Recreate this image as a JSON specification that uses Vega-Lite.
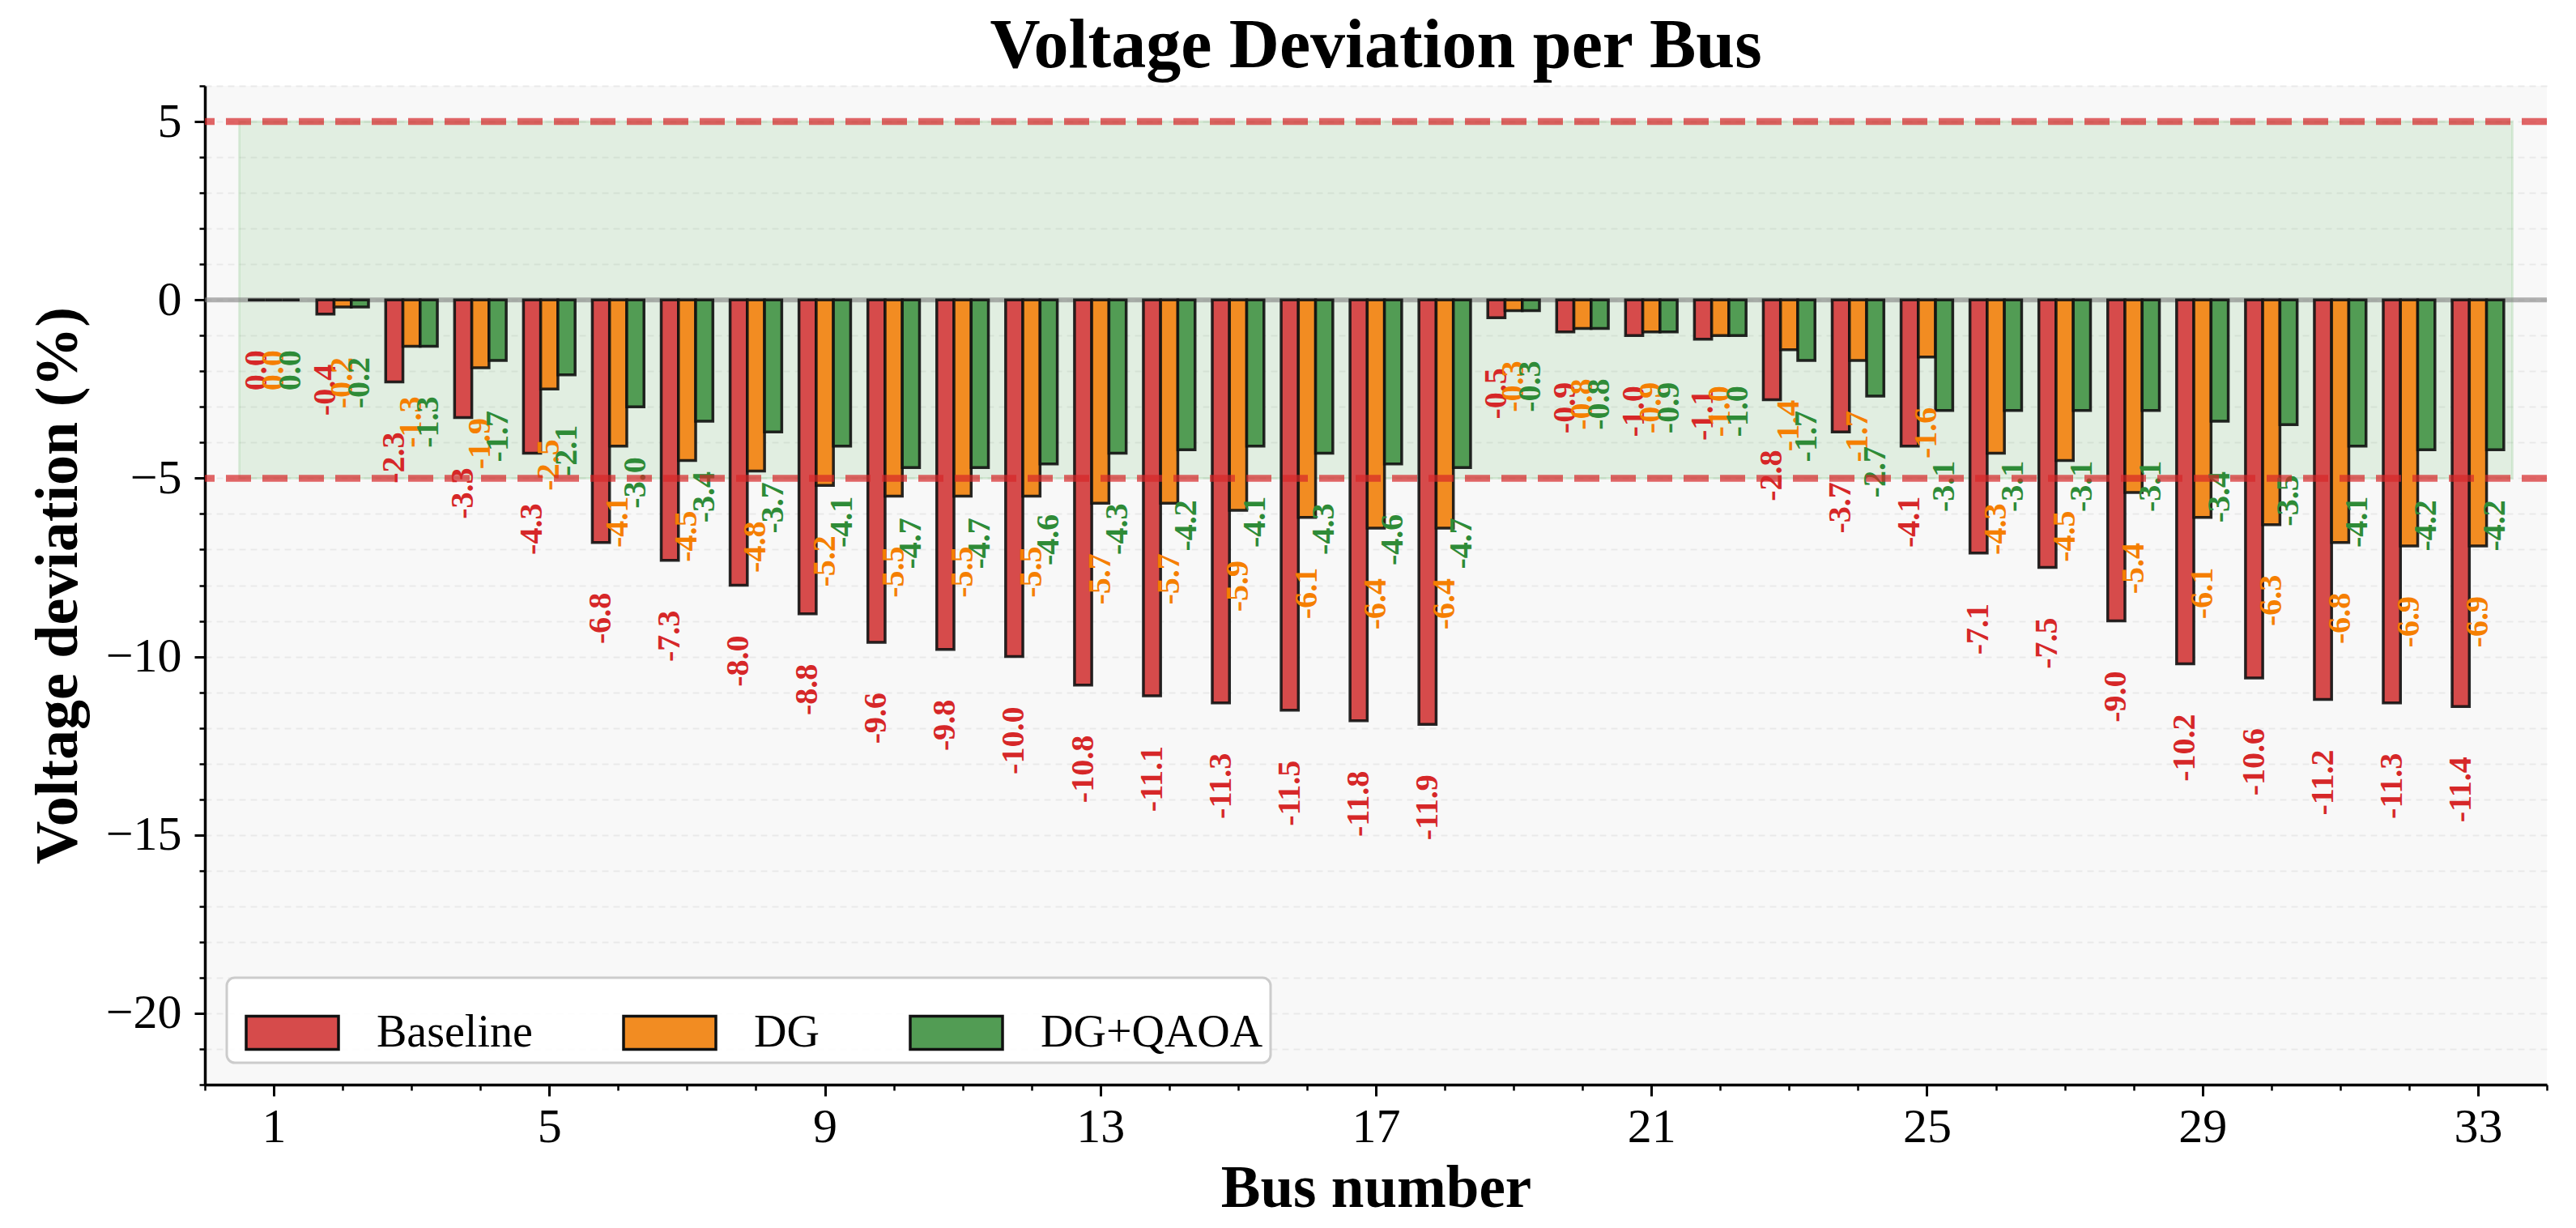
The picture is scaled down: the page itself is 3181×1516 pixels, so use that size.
{
  "$schema": "https://vega.github.io/schema/vega-lite/v6.json",
  "width": 2892,
  "height": 1233,
  "autosize": {"type": "none"},
  "padding": {"left": 253, "top": 106, "right": 36, "bottom": 177},
  "background": "white",
  "title": {
    "text": "Voltage Deviation per Bus",
    "font": "Liberation Serif",
    "fontSize": 86,
    "fontWeight": "bold",
    "color": "black",
    "anchor": "middle",
    "offset": 4
  },
  "datasets": {
    "buses": [
      {"bus": 1, "scenario": "Baseline", "dev": 0.0}, {"bus": 1, "scenario": "DG", "dev": 0.0}, {"bus": 1, "scenario": "DG+QAOA", "dev": 0.0},
      {"bus": 2, "scenario": "Baseline", "dev": -0.4}, {"bus": 2, "scenario": "DG", "dev": -0.2}, {"bus": 2, "scenario": "DG+QAOA", "dev": -0.2},
      {"bus": 3, "scenario": "Baseline", "dev": -2.3}, {"bus": 3, "scenario": "DG", "dev": -1.3}, {"bus": 3, "scenario": "DG+QAOA", "dev": -1.3},
      {"bus": 4, "scenario": "Baseline", "dev": -3.3}, {"bus": 4, "scenario": "DG", "dev": -1.9}, {"bus": 4, "scenario": "DG+QAOA", "dev": -1.7},
      {"bus": 5, "scenario": "Baseline", "dev": -4.3}, {"bus": 5, "scenario": "DG", "dev": -2.5}, {"bus": 5, "scenario": "DG+QAOA", "dev": -2.1},
      {"bus": 6, "scenario": "Baseline", "dev": -6.8}, {"bus": 6, "scenario": "DG", "dev": -4.1}, {"bus": 6, "scenario": "DG+QAOA", "dev": -3.0},
      {"bus": 7, "scenario": "Baseline", "dev": -7.3}, {"bus": 7, "scenario": "DG", "dev": -4.5}, {"bus": 7, "scenario": "DG+QAOA", "dev": -3.4},
      {"bus": 8, "scenario": "Baseline", "dev": -8.0}, {"bus": 8, "scenario": "DG", "dev": -4.8}, {"bus": 8, "scenario": "DG+QAOA", "dev": -3.7},
      {"bus": 9, "scenario": "Baseline", "dev": -8.8}, {"bus": 9, "scenario": "DG", "dev": -5.2}, {"bus": 9, "scenario": "DG+QAOA", "dev": -4.1},
      {"bus": 10, "scenario": "Baseline", "dev": -9.6}, {"bus": 10, "scenario": "DG", "dev": -5.5}, {"bus": 10, "scenario": "DG+QAOA", "dev": -4.7},
      {"bus": 11, "scenario": "Baseline", "dev": -9.8}, {"bus": 11, "scenario": "DG", "dev": -5.5}, {"bus": 11, "scenario": "DG+QAOA", "dev": -4.7},
      {"bus": 12, "scenario": "Baseline", "dev": -10.0}, {"bus": 12, "scenario": "DG", "dev": -5.5}, {"bus": 12, "scenario": "DG+QAOA", "dev": -4.6},
      {"bus": 13, "scenario": "Baseline", "dev": -10.8}, {"bus": 13, "scenario": "DG", "dev": -5.7}, {"bus": 13, "scenario": "DG+QAOA", "dev": -4.3},
      {"bus": 14, "scenario": "Baseline", "dev": -11.1}, {"bus": 14, "scenario": "DG", "dev": -5.7}, {"bus": 14, "scenario": "DG+QAOA", "dev": -4.2},
      {"bus": 15, "scenario": "Baseline", "dev": -11.3}, {"bus": 15, "scenario": "DG", "dev": -5.9}, {"bus": 15, "scenario": "DG+QAOA", "dev": -4.1},
      {"bus": 16, "scenario": "Baseline", "dev": -11.5}, {"bus": 16, "scenario": "DG", "dev": -6.1}, {"bus": 16, "scenario": "DG+QAOA", "dev": -4.3},
      {"bus": 17, "scenario": "Baseline", "dev": -11.8}, {"bus": 17, "scenario": "DG", "dev": -6.4}, {"bus": 17, "scenario": "DG+QAOA", "dev": -4.6},
      {"bus": 18, "scenario": "Baseline", "dev": -11.9}, {"bus": 18, "scenario": "DG", "dev": -6.4}, {"bus": 18, "scenario": "DG+QAOA", "dev": -4.7},
      {"bus": 19, "scenario": "Baseline", "dev": -0.5}, {"bus": 19, "scenario": "DG", "dev": -0.3}, {"bus": 19, "scenario": "DG+QAOA", "dev": -0.3},
      {"bus": 20, "scenario": "Baseline", "dev": -0.9}, {"bus": 20, "scenario": "DG", "dev": -0.8}, {"bus": 20, "scenario": "DG+QAOA", "dev": -0.8},
      {"bus": 21, "scenario": "Baseline", "dev": -1.0}, {"bus": 21, "scenario": "DG", "dev": -0.9}, {"bus": 21, "scenario": "DG+QAOA", "dev": -0.9},
      {"bus": 22, "scenario": "Baseline", "dev": -1.1}, {"bus": 22, "scenario": "DG", "dev": -1.0}, {"bus": 22, "scenario": "DG+QAOA", "dev": -1.0},
      {"bus": 23, "scenario": "Baseline", "dev": -2.8}, {"bus": 23, "scenario": "DG", "dev": -1.4}, {"bus": 23, "scenario": "DG+QAOA", "dev": -1.7},
      {"bus": 24, "scenario": "Baseline", "dev": -3.7}, {"bus": 24, "scenario": "DG", "dev": -1.7}, {"bus": 24, "scenario": "DG+QAOA", "dev": -2.7},
      {"bus": 25, "scenario": "Baseline", "dev": -4.1}, {"bus": 25, "scenario": "DG", "dev": -1.6}, {"bus": 25, "scenario": "DG+QAOA", "dev": -3.1},
      {"bus": 26, "scenario": "Baseline", "dev": -7.1}, {"bus": 26, "scenario": "DG", "dev": -4.3}, {"bus": 26, "scenario": "DG+QAOA", "dev": -3.1},
      {"bus": 27, "scenario": "Baseline", "dev": -7.5}, {"bus": 27, "scenario": "DG", "dev": -4.5}, {"bus": 27, "scenario": "DG+QAOA", "dev": -3.1},
      {"bus": 28, "scenario": "Baseline", "dev": -9.0}, {"bus": 28, "scenario": "DG", "dev": -5.4}, {"bus": 28, "scenario": "DG+QAOA", "dev": -3.1},
      {"bus": 29, "scenario": "Baseline", "dev": -10.2}, {"bus": 29, "scenario": "DG", "dev": -6.1}, {"bus": 29, "scenario": "DG+QAOA", "dev": -3.4},
      {"bus": 30, "scenario": "Baseline", "dev": -10.6}, {"bus": 30, "scenario": "DG", "dev": -6.3}, {"bus": 30, "scenario": "DG+QAOA", "dev": -3.5},
      {"bus": 31, "scenario": "Baseline", "dev": -11.2}, {"bus": 31, "scenario": "DG", "dev": -6.8}, {"bus": 31, "scenario": "DG+QAOA", "dev": -4.1},
      {"bus": 32, "scenario": "Baseline", "dev": -11.3}, {"bus": 32, "scenario": "DG", "dev": -6.9}, {"bus": 32, "scenario": "DG+QAOA", "dev": -4.2},
      {"bus": 33, "scenario": "Baseline", "dev": -11.4}, {"bus": 33, "scenario": "DG", "dev": -6.9}, {"bus": 33, "scenario": "DG+QAOA", "dev": -4.2}
    ],
    "limits": [{"limit": 5}, {"limit": -5}],
    "band": [{"lo": -5, "hi": 5}],
    "zero": [{"ref": 0}]
  },
  "layer": [
    {
      "data": {"name": "band"},
      "mark": {"type": "rect", "fill": "#2ca02c", "fillOpacity": 0.11, "stroke": "#2ca02c", "strokeOpacity": 0.12, "strokeWidth": 3},
      "encoding": {
        "x": {
          "datum": 0.5, "type": "quantitative",
          "scale": {"domain": [0, 34], "nice": false, "zero": false},
          "axis": {
            "orient": "bottom", "values": [1, 5, 9, 13, 17, 21, 25, 29, 33],
            "title": "Bus number", "grid": false,
            "domain": true, "domainColor": "black", "domainWidth": 3.5,
            "ticks": true, "tickSize": 14, "tickWidth": 3, "tickColor": "black",
            "labelFontSize": 60, "labelPadding": 9, "labelColor": "black",
            "titleFontSize": 73, "titlePadding": 10
          }
        },
        "x2": {"datum": 33.5},
        "y": {
          "field": "lo", "type": "quantitative",
          "scale": {"domain": [-22, 6], "nice": false, "zero": false},
          "axis": {
            "orient": "left", "values": [-20, -15, -10, -5, 0, 5],
            "title": "Voltage deviation (%)", "grid": false,
            "domain": true, "domainColor": "black", "domainWidth": 3.5,
            "ticks": true, "tickSize": 13, "tickWidth": 3, "tickColor": "black",
            "labelFontSize": 60, "labelPadding": 16, "labelColor": "black",
            "titleFontSize": 74, "titlePadding": 20
          }
        },
        "y2": {"field": "hi"}
      }
    },
    {
      "data": {"name": "zero"},
      "mark": {"type": "rule", "color": "gray", "opacity": 0.6, "strokeWidth": 6},
      "encoding": {
        "x": {
          "datum": 0, "type": "quantitative",
          "scale": {"domain": [0, 34], "nice": false, "zero": false},
          "axis": {
            "orient": "bottom", "values": [0, 1, 2, 3, 4, 5, 6, 7, 8, 9, 10, 11, 12, 13, 14, 15, 16, 17, 18, 19, 20, 21, 22, 23, 24, 25, 26, 27, 28, 29, 30, 31, 32, 33, 34],
            "title": null, "labels": false, "domain": false, "grid": false,
            "ticks": true, "tickSize": 7, "tickWidth": 2.5, "tickColor": "black"
          }
        },
        "x2": {"datum": 34},
        "y": {
          "field": "ref", "type": "quantitative",
          "scale": {"domain": [-22, 6], "nice": false, "zero": false},
          "axis": {
            "orient": "left", "values": [-22, -21, -20, -19, -18, -17, -16, -15, -14, -13, -12, -11, -10, -9, -8, -7, -6, -5, -4, -3, -2, -1, 0, 1, 2, 3, 4, 5, 6],
            "title": null, "labels": false, "domain": false,
            "grid": true, "gridColor": "#e9e9e9", "gridWidth": 2, "gridDash": [8, 6],
            "ticks": true, "tickSize": 7, "tickWidth": 2.5, "tickColor": "black"
          }
        }
      }
    },
    {
      "data": {"name": "buses"},
      "mark": {"type": "bar", "stroke": "#111111", "strokeWidth": 3.5, "strokeOpacity": 0.9},
      "encoding": {
        "x": {
          "field": "bus", "type": "ordinal",
          "scale": {"paddingInner": 0.25, "paddingOuter": 0.625},
          "axis": null
        },
        "xOffset": {
          "field": "scenario", "type": "nominal",
          "scale": {"domain": ["Baseline", "DG", "DG+QAOA"], "paddingInner": 0, "paddingOuter": 0}
        },
        "y": {
          "field": "dev", "type": "quantitative",
          "scale": {"domain": [-22, 6], "nice": false, "zero": false},
          "axis": null
        },
        "y2": {"datum": 0},
        "color": {
          "field": "scenario", "type": "nominal",
          "scale": {"domain": ["Baseline", "DG", "DG+QAOA"], "range": ["#d64b4b", "#f28c22", "#529c54"]},
          "legend": {
            "title": null, "orient": "bottom-left", "offset": 27,
            "direction": "horizontal", "columns": 3,
            "fillColor": "rgba(255,255,255,0.9)", "strokeColor": "#cccccc", "cornerRadius": 10,
            "padding": 9, "symbolOffset": 13,
            "symbolType": "M-1,-0.36L1,-0.36L1,0.36L-1,0.36Z", "symbolSize": 12996,
            "symbolStrokeColor": "#111111", "symbolStrokeWidth": 3.5, "symbolOpacity": 1,
            "labelFont": "Liberation Serif", "labelFontSize": 56, "labelColor": "black", "labelLimit": 0,
            "labelOffset": 45, "columnPadding": 97
          }
        }
      }
    },
    {
      "data": {"name": "buses"},
      "mark": {
        "type": "text", "font": "Liberation Serif", "fontSize": 40, "fontWeight": "bold",
        "angle": 270, "align": "right", "baseline": "middle", "dx": -62,
        "text": {"expr": "replace(format(datum.dev, '.1f'), '−', '-')"}
      },
      "encoding": {
        "x": {
          "field": "bus", "type": "ordinal",
          "scale": {"paddingInner": 0.25, "paddingOuter": 0.625},
          "axis": null
        },
        "xOffset": {
          "field": "scenario", "type": "nominal",
          "scale": {"domain": ["Baseline", "DG", "DG+QAOA"], "paddingInner": 0, "paddingOuter": 0}
        },
        "y": {
          "field": "dev", "type": "quantitative",
          "scale": {"domain": [-22, 6], "nice": false, "zero": false},
          "axis": null
        },
        "color": {
          "field": "scenario", "type": "nominal",
          "scale": {"domain": ["Baseline", "DG", "DG+QAOA"], "range": ["#d62728", "#f57f00", "#2e8b37"]},
          "legend": null
        }
      }
    },
    {
      "data": {"name": "limits"},
      "mark": {"type": "rule", "color": "#d62728", "opacity": 0.7, "strokeWidth": 8.5, "strokeDash": [31, 14]},
      "encoding": {
        "y": {
          "field": "limit", "type": "quantitative",
          "scale": {"domain": [-22, 6], "nice": false, "zero": false},
          "axis": null
        }
      }
    }
  ],
  "resolve": {"scale": {"x": "independent", "y": "independent", "color": "independent"}},
  "config": {
    "font": "Liberation Serif",
    "view": {"fill": "#f8f8f8", "stroke": null},
    "legend": {"strokeWidth": 3},
    "axis": {
      "labelFont": "Liberation Serif",
      "titleFont": "Liberation Serif",
      "titleFontWeight": "bold",
      "titleColor": "black"
    }
  }
}
